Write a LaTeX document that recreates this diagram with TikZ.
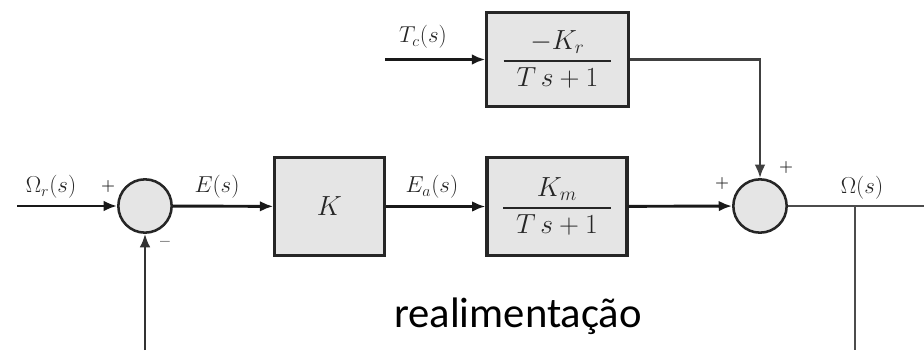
\documentclass[tikz,border=0pt]{standalone}
\usepackage{amsmath}
\usepackage{fontspec}
\newfontfamily\notefont{Carlito}
\usetikzlibrary{arrows.meta}

\begin{document}
\begin{tikzpicture}[x=0.75pt,y=-0.75pt,
  lbl/.style={font=\fontsize{18}{22}\selectfont,text=black!85},
  sgn/.style={font=\fontsize{13}{15}\selectfont,text=black!85},
  blk/.style n args={2}{font=\fontsize{19.5}{23}\selectfont,text=black!85,draw=black!85,line width=2.4pt,fill=black!10,minimum width=#1,minimum height=#2,inner sep=0pt},
  sumnode/.style={circle,draw=black!85,line width=1.9pt,fill=black!10,minimum size=40pt,inner sep=0pt},
  sig/.style={line width=2.2pt,draw=black!90,-{Latex[length=10pt,width=8pt]}},
  wire/.style={line width=1.6pt,draw=black!70}]
\useasboundingbox (0,0) rectangle (924,350);
% blocks and summing points
\node[sumnode] (sumA) at (145,206) {};
\node[blk={82pt}{73pt}] (gainK) at (329.5,206.5) {$K$};
\node[blk={105pt}{73pt}] (plant) at (557,206.5) {$\dfrac{K_m}{\enspace T\,s+1\enspace}$};
\node[blk={106pt}{71pt}] (dist) at (557.5,59.5) {$\dfrac{-K_r}{\enspace T\,s+1\enspace}$};
\node[sumnode] (sumB) at (760,206) {};
\coordinate (in) at (17,206);
\coordinate (tcin) at (385,59.5);
\coordinate (out) at (924,206);
\coordinate (branch) at (855,206);
\coordinate (fbA) at (145,350);
\coordinate (fbB) at (855,350);
% signal flow
\draw[sig] (in) -- (sumA);
\draw[sig] (sumA) -- (gainK);
\draw[sig] (gainK) -- (plant);
\draw[sig] (plant) -- (sumB);
\draw[sig] (tcin) -- (dist);
\draw[sig,line width=1.8pt,draw=black!75] (dist.east) -| (sumB.north);
\draw[wire] (sumB.east) -- (out);
\draw[wire] (branch) -- (fbB);
\draw[sig,line width=1.6pt,draw=black!80] (fbA) -- (sumA.south);
% labels
\node[lbl] (lblR) at (51,187) {$\Omega_r(s)$};
\node[lbl] (lblE) at (217,187) {$E(s)$};
\node[lbl] (lblEa) at (432,187) {$E_a(s)$};
\node[lbl] (lblTc) at (423,37) {$T_c(s)$};
\node[lbl] (lblW) at (862,188) {$\Omega(s)$};
\node[sgn] (pA) at (108,186) {$\boldsymbol{+}$};
\node[sgn] (mA) at (165,244) {\bfseries --};
\node[sgn] (pB) at (722,183) {$\boldsymbol{+}$};
\node[sgn] (pC) at (786,167) {$\boldsymbol{+}$};
\node[font=\notefont\fontsize{32}{38}\selectfont,anchor=base] (fbtxt) at (518,327) {realimentação};
\end{tikzpicture}
\end{document}
